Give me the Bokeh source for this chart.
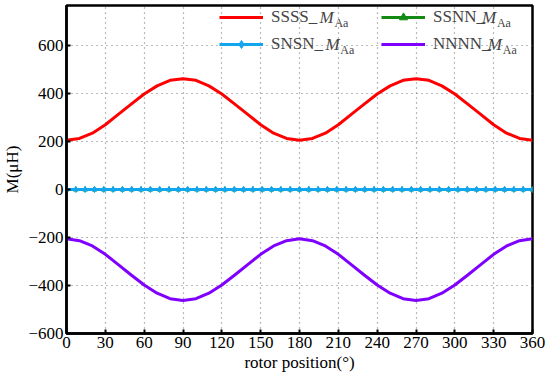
from bokeh.plotting import figure
from bokeh.models import Legend, LegendItem, Label, Range1d, FixedTicker
from bokeh.embed import file_html
from bokeh.resources import INLINE

# ---- data ----
pos = [0, 10, 20, 30, 40, 50, 60, 70, 80, 90, 100, 110, 120, 130, 140, 150, 160, 170, 180,
       190, 200, 210, 220, 230, 240, 250, 260, 270, 280, 290, 300, 310, 320, 330, 340, 350, 360]
ssss = [205, 213, 235, 270, 313, 356, 398, 432, 455, 462, 455, 432, 398, 356, 313, 270, 235, 213, 205,
        213, 235, 270, 313, 356, 398, 432, 455, 462, 455, 432, 398, 356, 313, 270, 235, 213, 205]
nnnn = [-205, -213, -235, -270, -313, -356, -398, -432, -455, -462, -455, -432, -398, -356, -313, -270, -235, -213, -205,
        -213, -235, -270, -313, -356, -398, -432, -455, -462, -455, -432, -398, -356, -313, -270, -235, -213, -205]
pos_z = [0, 7.2, 14.4, 21.6, 28.8, 36, 43.2, 50.4, 57.6, 64.8, 72, 79.2, 86.4, 93.6, 100.8, 108, 115.2,
         122.4, 129.6, 136.8, 144, 151.2, 158.4, 165.6, 172.8, 180, 187.2, 194.4, 201.6, 208.8, 216,
         223.2, 230.4, 237.6, 244.8, 252, 259.2, 266.4, 273.6, 280.8, 288, 295.2, 302.4, 309.6, 316.8,
         324, 331.2, 338.4, 345.6, 352.8, 360]
ssnn = [0, 0, 0, 0, 0, 0, 0, 0, 0, 0, 0, 0, 0, 0, 0, 0, 0, 0, 0, 0, 0, 0, 0, 0, 0, 0,
        0, 0, 0, 0, 0, 0, 0, 0, 0, 0, 0, 0, 0, 0, 0, 0, 0, 0, 0, 0, 0, 0, 0, 0, 0]
snsn = [0, 0, 0, 0, 0, 0, 0, 0, 0, 0, 0, 0, 0, 0, 0, 0, 0, 0, 0, 0, 0, 0, 0, 0, 0, 0,
        0, 0, 0, 0, 0, 0, 0, 0, 0, 0, 0, 0, 0, 0, 0, 0, 0, 0, 0, 0, 0, 0, 0, 0, 0]
x_ticks = [0, 30, 60, 90, 120, 150, 180, 210, 240, 270, 300, 330, 360]
y_ticks = [-600, -400, -200, 0, 200, 400, 600]
names = ["SSSS_", "SSNN_", "SNSN_", "NNNN_"]

FONT = '"Liberation Serif"'
RED, GREEN, BLUE, PURPLE = "#ff0000", "#138a13", "#12a6ee", "#7f00ff"

p = figure(width=550, height=382, output_backend="svg", toolbar_location=None,
           x_range=Range1d(0, 360), y_range=Range1d(-600, 767),
           min_border_left=65, min_border_right=18, min_border_top=5, min_border_bottom=49)
p.outline_line_color = "black"
p.outline_line_width = 2.5
p.background_fill_color = "white"
p.border_fill_color = "white"

for ax in (p.xaxis[0], p.yaxis[0]):
    ax.axis_line_width = 2.5
    ax.axis_line_color = "black"
    ax.major_tick_in = 4
    ax.major_tick_out = 0
    ax.major_tick_line_width = 2
    ax.minor_tick_line_color = None
    ax.major_label_text_font = FONT
    ax.major_label_text_font_size = "17px"
    ax.major_label_text_color = "black"
    ax.axis_label_text_font = FONT
    ax.axis_label_text_font_size = "17px"
    ax.axis_label_text_font_style = "normal"
    ax.axis_label_text_color = "black"

p.xaxis.ticker = FixedTicker(ticks=x_ticks)
p.yaxis.ticker = FixedTicker(ticks=y_ticks)
p.xaxis.major_label_standoff = 3
p.yaxis.major_label_standoff = 3
p.xaxis.axis_label = "rotor position(°)"
p.xaxis.axis_label_standoff = 2
p.yaxis.axis_label = "M(μH)"
p.yaxis.axis_label_standoff = 3

for g in (p.xgrid[0], p.ygrid[0]):
    g.grid_line_color = "#777777"
    g.grid_line_dash = "1 4"
    g.grid_line_width = 1.2
p.xgrid.ticker = FixedTicker(ticks=x_ticks)
p.ygrid.ticker = FixedTicker(ticks=y_ticks)

r_ssss = p.line(pos, ssss, line_color=RED, line_width=3)
r_nnnn = p.line(pos, nnnn, line_color=PURPLE, line_width=3)
r_ssnn_l = p.line(pos_z, ssnn, line_color=GREEN, line_width=3)
r_ssnn_m = p.scatter(pos_z, ssnn, marker="triangle", size=5, color=GREEN)
r_snsn_l = p.line(pos_z, snsn, line_color=BLUE, line_width=3)
r_snsn_m = p.scatter(pos_z, snsn, marker="diamond", size=6, color=BLUE)

legend = Legend(items=[
    LegendItem(label=names[0], renderers=[r_ssss]),
    LegendItem(label=names[2], renderers=[r_snsn_l, r_snsn_m]),
    LegendItem(label=names[1], renderers=[r_ssnn_l, r_ssnn_m]),
    LegendItem(label=names[3], renderers=[r_nnnn]),
], location=(153, 279), orientation="vertical", nrows=2,
    background_fill_alpha=0, border_line_color=None,
    label_text_font=FONT, label_text_font_size="17px",
    glyph_width=44, glyph_height=20, label_height=20, label_width=103,
    label_standoff=8, spacing=7, padding=0, margin=0)
p.add_layout(legend)

# italic M with subscript Aa after each legend label (x in degrees, y in µH)
for (mx, sx, my, sy) in [(195.5, 207, 717, 695), (200, 211.5, 604, 582),
                         (321, 332.5, 717, 695), (325.5, 337, 604, 582)]:
    p.add_layout(Label(x=mx, y=my, text="M", text_font=FONT, text_font_style="italic",
                       text_font_size="17px", text_baseline="middle", text_align="left"))
    p.add_layout(Label(x=sx, y=sy, text="Aa", text_font=FONT,
                       text_font_size="12px", text_baseline="middle", text_align="left"))

open("out.html", "w").write(file_html(p, INLINE))
